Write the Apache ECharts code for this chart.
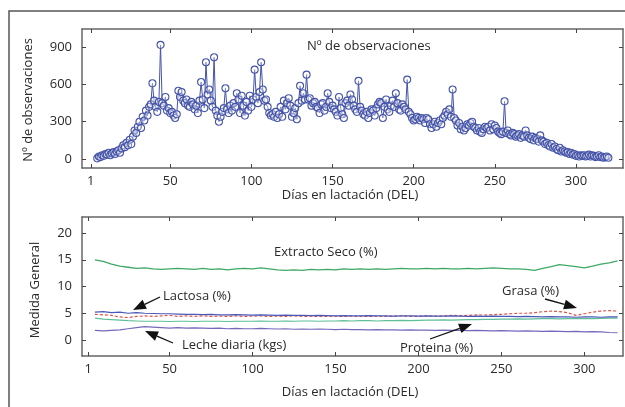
<!DOCTYPE html>
<html>
<head>
<meta charset="utf-8">
<script src="https://cdn.jsdelivr.net/npm/echarts@6/dist/echarts.min.js"></script>
<style>html,body{margin:0;padding:0;background:#fff}#c{width:625px;height:407px}</style>
</head>
<body>
<div id="c"></div>
<script>
// ---------- DATA ----------
const obsStartDay = 5;
const obsCounts = [
  5,20,15,30,25,40,35,50,30,45,
  55,40,60,70,50,85,110,95,130,110,
  155,120,180,230,210,260,300,250,340,310,
  390,350,420,440,610,470,420,380,460,920,
  450,430,500,390,410,370,380,350,330,360,
  550,500,540,470,450,480,430,420,460,440,
  400,430,370,470,620,480,410,780,520,560,
  470,420,820,390,350,300,340,380,410,570,
  400,370,430,390,450,420,530,480,370,510,
  430,350,460,390,510,420,480,720,500,450,
  540,780,560,470,480,420,370,350,360,340,
  380,330,360,420,340,470,400,450,490,430,
  340,370,410,320,450,590,470,530,480,680,
  480,490,430,450,460,420,410,370,440,450,
  390,420,530,460,410,430,400,380,350,500,
  410,360,330,450,470,430,520,480,430,400,
  380,630,420,390,360,350,380,330,370,400,
  390,350,410,440,460,450,330,420,480,400,
  380,430,470,420,530,450,400,390,440,420,
  400,640,380,360,330,310,320,340,330,310,
  330,320,290,330,320,280,250,280,300,260,
  290,310,280,330,350,380,360,400,340,560,
  330,310,270,290,240,260,230,250,280,270,
  290,300,260,250,230,250,220,210,240,260,
  250,260,230,280,240,270,250,220,210,200,
  220,465,210,230,200,190,210,200,180,190,
  200,170,190,180,230,190,170,160,180,150,
  170,160,140,190,150,140,120,130,110,100,
  120,90,100,80,70,90,60,70,60,50,
  55,40,50,35,40,25,30,20,30,25,
  30,20,25,35,20,30,25,15,20,30,
  15,20,10,15,20,10
];
const medStartDay = 5;
const medStep = 5;
const extractoSeco = [15.0,14.7,14.2,13.8,13.6,13.4,13.5,13.3,13.2,13.3, 13.4,13.3,13.2,13.4,13.2,13.3,13.1,13.3,13.4,13.3, 13.5,13.3,13.1,13.0,13.1,13.0,13.2,13.1,13.2,13.1, 13.3,13.2,13.3,13.2,13.3,13.2,13.3,13.4,13.3,13.3, 13.4,13.3,13.4,13.3,13.3,13.4,13.3,13.4,13.5,13.4, 13.3,13.3,13.2,13.0,13.4,13.7,14.1,13.9,13.7,13.5, 13.8,14.2,14.4,14.8];
const lactosa = [5.2,5.3,5.1,5.2,5.0,5.1,5.0,4.95,4.9,4.9, 4.85,4.8,4.8,4.75,4.8,4.7,4.7,4.75,4.7,4.65, 4.7,4.65,4.6,4.65,4.6,4.6,4.55,4.6,4.55,4.5, 4.55,4.5,4.5,4.55,4.5,4.5,4.45,4.5,4.5,4.45, 4.5,4.45,4.45,4.5,4.45,4.4,4.45,4.4,4.45,4.4, 4.4,4.35,4.4,4.35,4.3,4.35,4.3,4.3,4.25,4.3, 4.3,4.25,4.3,4.3];
const grasa = [4.8,4.7,4.6,4.3,4.2,4.4,4.5,4.4,4.5,4.6, 4.4,4.5,4.4,4.5,4.4,4.45,4.4,4.5,4.4,4.45, 4.5,4.4,4.45,4.4,4.5,4.4,4.45,4.4,4.4,4.45, 4.4,4.45,4.4,4.4,4.45,4.4,4.45,4.5,4.4,4.45, 4.5,4.45,4.5,4.6,4.55,4.6,4.7,4.65,4.75,4.8, 4.9,5.0,5.0,5.1,5.3,5.4,5.3,5.1,4.6,4.9, 5.2,5.4,5.5,5.4];
const proteina = [4.1,3.9,3.8,3.7,3.6,3.55,3.5,3.5,3.5,3.45, 3.5,3.5,3.45,3.5,3.5,3.5,3.45,3.5,3.5,3.5, 3.55,3.5,3.5,3.55,3.5,3.55,3.55,3.5,3.55,3.55, 3.6,3.55,3.6,3.6,3.55,3.6,3.6,3.65,3.6,3.65, 3.7,3.7,3.75,3.7,3.75,3.8,3.8,3.85,3.85,3.9, 3.9,3.95,3.9,3.95,4.0,4.0,3.95,4.0,4.0,4.05, 4.0,4.05,4.1,4.1];
const lecheDiaria = [1.8,1.7,1.8,1.9,2.1,2.3,2.5,2.4,2.3,2.2, 2.3,2.2,2.25,2.2,2.15,2.2,2.1,2.15,2.1,2.1, 2.15,2.1,2.05,2.1,2.0,2.05,2.0,2.05,2.0,1.95, 2.0,1.95,1.95,1.9,1.95,1.9,1.9,1.85,1.9,1.85, 1.85,1.8,1.85,1.8,1.8,1.75,1.8,1.75,1.7,1.75, 1.7,1.65,1.7,1.65,1.6,1.65,1.6,1.55,1.6,1.5, 1.55,1.5,1.4,1.35];
const xTicks = [1,50,100,150,200,250,300];
const yTicksTop = [0,300,600,900];
const yTicksBottom = [0,5,10,15,20];

// ---------- BUILD ----------
const obsData = obsCounts.map((v,i)=>[obsStartDay+i, v]);
const med = arr => arr.map((v,i)=>[medStartDay+i*medStep, v]);

const FONT = 'Open Sans';
const axisCol = '#666';
const txtCol = '#2a2a2a';

function xAx(grid, pos, min, max, labels){
  return {type:'value', gridIndex:grid, position:pos, min:min, max:max,
    axisLine:{show:true, onZero:false, lineStyle:{color:axisCol, width:1.5}},
    axisTick:{show:true, inside:true, length:4, customValues:xTicks, lineStyle:{color:'#444'}},
    axisLabel:{show:labels, customValues:xTicks, margin:7, fontSize:13, fontFamily:FONT, color:txtCol},
    splitLine:{show:false}};
}
function yAx(grid, pos, min, max, ticks, labels){
  return {type:'value', gridIndex:grid, position:pos, min:min, max:max,
    axisLine:{show:true, onZero:false, lineStyle:{color:axisCol, width:1.5}},
    axisTick:{show:true, inside:true, length:4, customValues:ticks, lineStyle:{color:'#444'}},
    axisLabel:{show:labels, customValues:ticks, margin:10, fontSize:13, fontFamily:FONT, color:txtCol},
    splitLine:{show:false}};
}

function arrow(x1,y1,x2,y2){
  const dx=x2-x1, dy=y2-y1, L=Math.hypot(dx,dy), ux=dx/L, uy=dy/L;
  const hl=13, hw=5;
  const bx=x2-ux*hl, by=y2-uy*hl;
  return [
    {type:'line', shape:{x1:x1,y1:y1,x2:bx,y2:by}, style:{stroke:'#111', lineWidth:1.3}, z:100},
    {type:'polygon', shape:{points:[[x2,y2],[bx-uy*hw,by+ux*hw],[bx+uy*hw,by-ux*hw]]}, style:{fill:'#111'}, z:100}
  ];
}
function txt(x,y,s,opt){
  return {type:'text', x:x, y:y, z:100, style:Object.assign({text:s, fontSize:13, fontFamily:FONT, fill:txtCol, textVerticalAlign:'middle'}, opt||{})};
}
function vtxt(x,y,s){
  return {type:'text', x:x, y:y, rotation:Math.PI/2, z:100, style:{text:s, fontSize:13, fontFamily:FONT, fill:txtCol, textAlign:'center', textVerticalAlign:'middle'}};
}

const lineCommon = {type:'line', showSymbol:false, smooth:false, silent:true};

const chart = echarts.init(document.getElementById('c'), null, {renderer:'canvas'});
chart.setOption({
  backgroundColor:'#fff',
  animation:false,
  grid:[
    {left:82, top:29, width:541, height:139},
    {left:82, top:217, width:541, height:139}
  ],
  xAxis:[
    xAx(0,'bottom',-4.4,329,true),
    xAx(0,'top',-4.4,329,false),
    xAx(1,'bottom',-2.8,323.3,true),
    xAx(1,'top',-2.8,323.3,false)
  ],
  yAxis:[
    yAx(0,'left',-73,1048,yTicksTop,true),
    yAx(0,'right',-73,1048,yTicksTop,false),
    yAx(1,'left',-3,23,yTicksBottom,true),
    yAx(1,'right',-3,23,yTicksBottom,false)
  ],
  series:[
    {type:'line', xAxisIndex:0, yAxisIndex:0, data:obsData, symbol:'circle', symbolSize:7, silent:true,
      itemStyle:{color:'rgba(255,255,255,0.35)', borderColor:'#4453a8', borderWidth:1.1},
      lineStyle:{color:'#4453a8', width:1}},
    Object.assign({}, lineCommon, {name:'Extracto Seco (%)', xAxisIndex:2, yAxisIndex:2, data:med(extractoSeco), lineStyle:{color:'#3fa865', width:1.3}}),
    Object.assign({}, lineCommon, {name:'Proteina (%)', xAxisIndex:2, yAxisIndex:2, data:med(proteina), lineStyle:{color:'#5fbf98', width:1.2}}),
    Object.assign({}, lineCommon, {name:'Grasa (%)', xAxisIndex:2, yAxisIndex:2, data:med(grasa), lineStyle:{color:'#e0554a', width:1.2, type:[3,2]}}),
    Object.assign({}, lineCommon, {name:'Lactosa (%)', xAxisIndex:2, yAxisIndex:2, data:med(lactosa), lineStyle:{color:'#4a58b8', width:1.2}}),
    Object.assign({}, lineCommon, {name:'Leche diaria (kgs)', xAxisIndex:2, yAxisIndex:2, data:med(lecheDiaria), lineStyle:{color:'#7468bd', width:1.2}})
  ],
  graphic:[
    {type:'polyline', shape:{points:[[9,420],[9,11],[640,11]]}, style:{stroke:'#555', lineWidth:1.5, fill:null}, z:90},
    {type:'rect', shape:{x:272, y:36, width:188, height:21}, style:{fill:'#fff', stroke:null}, z:95},
    txt(307,46,'Nº de observaciones'),
    vtxt(28,100,'Nº de observaciones'),
    txt(350,195,'Días en lactación (DEL)',{textAlign:'center'}),
    txt(274,252,'Extracto Seco (%)'),
    txt(163,296,'Lactosa (%)'),
    txt(182,345,'Leche diaria (kgs)'),
    txt(502,291,'Grasa (%)'),
    txt(400,348,'Proteina (%)'),
    vtxt(35,290,'Medida General'),
    txt(350,392,'Días en lactación (DEL)',{textAlign:'center'}),
    ...arrow(160,297,133,310),
    ...arrow(173,343,145,331),
    ...arrow(545,299,577,308),
    ...arrow(430,339,472,324)
  ]
});
</script>
</body>
</html>
